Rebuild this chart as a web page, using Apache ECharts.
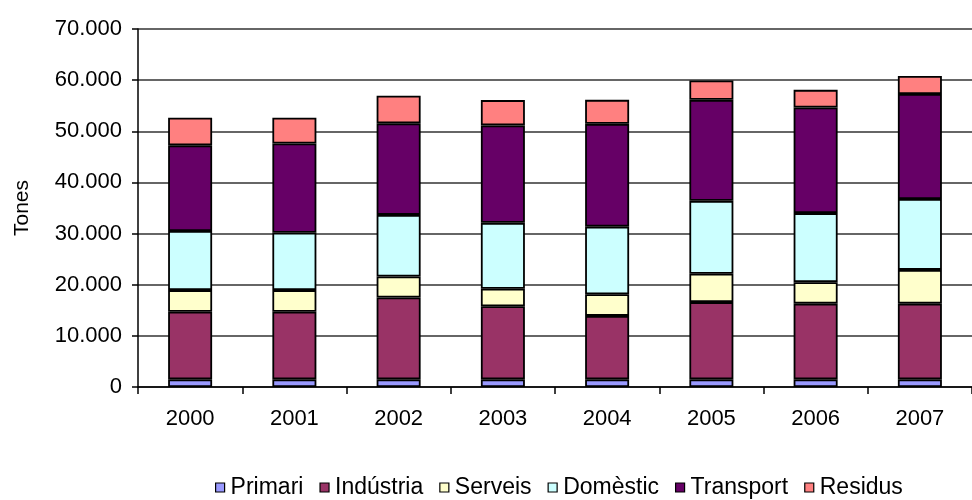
<!DOCTYPE html>
<html>
<head>
<meta charset="utf-8">
<script src="https://cdn.jsdelivr.net/npm/echarts@6/dist/echarts.min.js"></script>
<style>
  html, body { margin: 0; padding: 0; background: #fff; }
</style>
</head>
<body>
<div id="chart" style="width: 972px; height: 500px;"></div>
<script>
// anys
const years = ['2000', '2001', '2002', '2003', '2004', '2005', '2006', '2007']
// tones per sector (llegit del gràfic)
const primari = [1500, 1500, 1500, 1500, 1500, 1500, 1500, 1500]
const industria = [13200, 13200, 16000, 14300, 12400, 15100, 14800, 14800]
const serveis = [4250, 4250, 4100, 3400, 4250, 5550, 4200, 6600]
const domestic = [11550, 11200, 12050, 12900, 13200, 14250, 13500, 13850]
const transport = [16750, 17450, 17900, 19050, 20100, 19750, 20650, 20550]
const residus = [5400, 5050, 5400, 4950, 4700, 3800, 3450, 3500]

const seriesNames = ['Primari', 'Indústria', 'Serveis', 'Domèstic', 'Transport', 'Residus']
const seriesData = [primari, industria, serveis, domestic, transport, residus]
const colors = ['#9999FF', '#993366', '#FFFFCC', '#CCFFFF', '#660066', '#FF8080']

const yMax = 70000
const yStep = 10000

function fmt(v) {
  return String(v).replace(/\B(?=(\d{3})+(?!\d))/g, '.')
}

const chart = echarts.init(document.getElementById('chart'))
chart.setOption({
  animation: false,
  textStyle: { fontFamily: 'Liberation Sans, Arial, sans-serif', color: '#000' },
  grid: {
    left: 138,
    right: -12,
    top: 29,
    bottom: 113,
    containLabel: false
  },
  legend: {
    data: seriesNames,
    bottom: -4,
    left: 210,
    icon: 'rect',
    itemWidth: 9,
    itemHeight: 9,
    itemGap: 16,
    itemStyle: { borderColor: '#000', borderWidth: 1.2 },
    textStyle: { fontSize: 23, color: '#000', padding: [0, 0, 0, 1] }
  },
  xAxis: {
    type: 'category',
    data: years,
    axisLine: { lineStyle: { color: '#000', width: 1.5 } },
    axisTick: { show: true, length: 7, lineStyle: { color: '#000', width: 1.5 } },
    axisLabel: { fontSize: 22, color: '#000', margin: 21 }
  },
  yAxis: {
    type: 'value',
    min: 0,
    max: yMax,
    interval: yStep,
    name: 'Tones',
    nameLocation: 'middle',
    nameGap: 105,
    nameTextStyle: { fontSize: 21, color: '#000' },
    axisLine: { show: true, lineStyle: { color: '#000', width: 1.5 } },
    axisTick: { show: true, length: 6, lineStyle: { color: '#000', width: 1.5 } },
    axisLabel: { fontSize: 22, color: '#000', margin: 16, formatter: fmt },
    splitLine: { show: true, lineStyle: { color: '#333', width: 1.5 } }
  },
  series: seriesNames.map((name, i) => ({
    name: name,
    type: 'bar',
    stack: 'total',
    barWidth: 44,
    data: seriesData[i],
    itemStyle: {
      color: colors[i],
      borderColor: '#000',
      borderWidth: 1.8
    }
  }))
})
</script>
</body>
</html>
